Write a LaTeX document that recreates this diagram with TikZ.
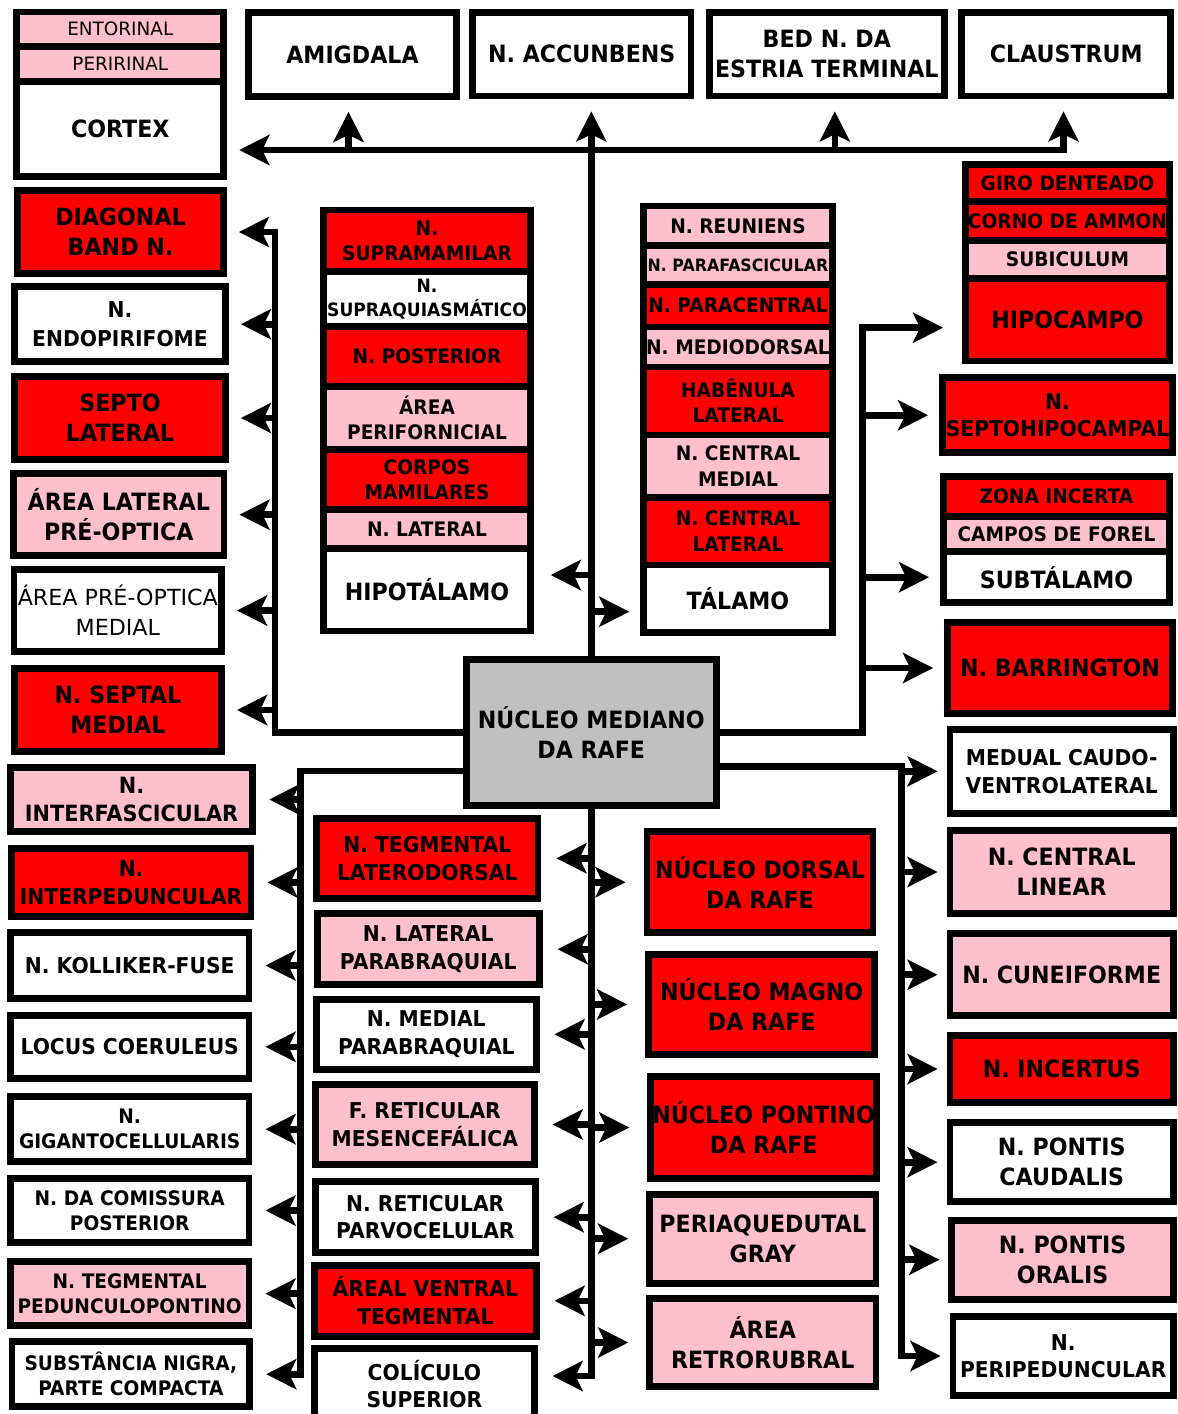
\documentclass[tikz,border=0pt]{standalone}
\usepackage{fontspec}
\setmainfont{DejaVu Sans}[FakeStretch=0.93]
\newfontfamily\plainface{DejaVu Sans}
\usetikzlibrary{arrows.meta}

\definecolor{nred}{RGB}{255,0,0}
\definecolor{npink}{RGB}{255,192,203}
\definecolor{ngray}{RGB}{192,192,192}

\newcommand{\szA}{\fontsize{11.9}{15.1}\selectfont}
\newcommand{\szB}{\fontsize{10.9}{13.8}\selectfont}
\newcommand{\szC}{\fontsize{10}{12.6}\selectfont}
\newcommand{\szD}{\fontsize{9.2}{12}\selectfont}
\newcommand{\szE}{\fontsize{8.5}{10.5}\selectfont}

\begin{document}
\begin{tikzpicture}[x=0.5pt, y=-0.5pt,
  cell/.style={draw, line width=3.4pt, inner sep=0pt, align=center, font=\bfseries\szB},
  redcell/.style={cell, fill=nred},
  pinkcell/.style={cell, fill=npink},
  whitecell/.style={cell, fill=white},
  graycell/.style={cell, fill=ngray},
  wh/.style 2 args={minimum width=#1*0.5pt, minimum height=#2*0.5pt},
  fA/.style={font=\bfseries\szA},
  fC/.style={font=\bfseries\szC},
  fD/.style={font=\bfseries\szD},
  fE/.style={font=\bfseries\szE},
  bus/.style={line width=3.3pt},
  link/.style={bus, -{Stealth[length=15pt, width=15pt, inset=3.5pt]}, shorten >=6pt}]

  \useasboundingbox (0,0) rectangle (1178,1414);
  \clip (0,0) rectangle (1178,1414);

  % top row
  \node[pinkcell, wh={207}{34.3}, font=\plainface\fontsize{9.2}{11}\selectfont] (Entorinal) at (120.3,29.2) {ENTORINAL};
  \node[pinkcell, wh={207}{35.4}, font=\plainface\fontsize{9.2}{11}\selectfont] (Peririnal) at (120.3,64) {PERIRINAL};
  \node[whitecell, wh={207}{94.8}, fA] (Cortex) at (120.3,129.1) {CORTEX};

  \node[whitecell, wh={208}{84}, fA] (Amigdala) at (352.5,54.5) {AMIGDALA};
  \node[whitecell, wh={218.2}{83.5}, fA] (Accunbens) at (581.8,54.2) {N. ACCUNBENS};
  \node[whitecell, wh={234.7}{83.5}, fA] (Estria) at (826.8,54.2) {BED N. DA\\ESTRIA TERMINAL};
  \node[whitecell, wh={209.1}{83.5}, fA] (Claustrum) at (1066.3,54.2) {CLAUSTRUM};

  % left, upper
  \node[redcell, wh={206}{82.4}, fA] (Diagonal) at (120.5,232) {DIAGONAL\\BAND N.};
  \node[whitecell, wh={211}{74.7}, font=\bfseries\fontsize{10.9}{14.3}\selectfont] (Endopirifome) at (120,324.2) {N.\\ENDOPIRIFOME};
  \node[redcell, wh={211}{82.4}, fA] (SeptoLateral) at (120,418) {SEPTO\\LATERAL};
  \node[pinkcell, wh={210.5}{82.3}, fA] (AreaLateral) at (118.8,514.7) {ÁREA LATERAL\\PRÉ-OPTICA};
  \node[whitecell, wh={207.5}{82}, font=\plainface\fontsize{11.1}{15}\selectfont] (AreaMedial) at (117.8,610.5) {ÁREA PRÉ-OPTICA\\MEDIAL};
  \node[redcell, wh={207.3}{83}, fA] (SeptalMedial) at (117.9,710) {N. SEPTAL\\MEDIAL};

  % hipotalamo
  \node[redcell, wh={207}{61.3}, fC] (Supramamilar) at (427,240.6) {N.\\SUPRAMAMILAR};
  \node[whitecell, wh={207}{55.4}, fD] (Supraquiasmatico) at (427,299) {N.\\SUPRAQUIASMÁTICO};
  \node[redcell, wh={207}{59.6}, fC] (Posterior) at (427,356.5) {N. POSTERIOR};
  \node[pinkcell, wh={207}{63.4}, fC] (Perifornicial) at (427,418) {ÁREA\\PERIFORNICIAL};
  \node[redcell, wh={207}{59.6}, fC] (Mamilares) at (427,479.5) {CORPOS\\MAMILARES};
  \node[pinkcell, wh={207}{39}, fC] (LateralHip) at (427,528.8) {N. LATERAL};
  \node[whitecell, wh={207}{82.7}, fA] (Hipotalamo) at (427,589.7) {HIPOTÁLAMO};

  % talamo
  \node[pinkcell, wh={189}{39.5}, fC] (Reuniens) at (738,225.75) {N. REUNIENS};
  \node[pinkcell, wh={189}{38.7}, fE] (Parafascicular) at (738,264.85) {N. PARAFASCICULAR};
  \node[redcell, wh={189}{42.8}, fC] (Paracentral) at (738,305.6) {N. PARACENTRAL};
  \node[pinkcell, wh={189}{40}, fC] (Mediodorsal) at (738,347) {N. MEDIODORSAL};
  \node[redcell, wh={189}{68}, fC] (Habenula) at (738,401) {HABÊNULA\\LATERAL};
  \node[pinkcell, wh={189}{62.3}, fC] (CentralMedial) at (738,466.15) {N. CENTRAL\\MEDIAL};
  \node[redcell, wh={189}{67.7}, fC] (CentralLateral) at (738,531.15) {N. CENTRAL\\LATERAL};
  \node[whitecell, wh={189}{67.7}, fA] (Talamo) at (738,598.85) {TÁLAMO};

  % right, upper
  \node[redcell, wh={204}{36.9}, fC] (Giro) at (1067.5,183) {GIRO DENTEADO};
  \node[redcell, wh={204}{39.1}, fC] (Ammon) at (1067.5,221) {CORNO DE AMMON};
  \node[pinkcell, wh={204}{37.9}, fC] (Subiculum) at (1067.5,259.5) {SUBICULUM};
  \node[redcell, wh={204}{82.6}, fA] (Hipocampo) at (1067.5,319.7) {HIPOCAMPO};
  \node[redcell, wh={230}{74.7}] (Septohipocampal) at (1057.5,415.2) {N.\\SEPTOHIPOCAMPAL};
  \node[redcell, wh={226}{39.6}, fC] (ZonaIncerta) at (1056.5,496.5) {ZONA INCERTA};
  \node[pinkcell, wh={226}{35.4}, fC] (Forel) at (1056.5,534) {CAMPOS DE FOREL};
  \node[whitecell, wh={226}{51}, fA] (Subtalamo) at (1056.5,577.2) {SUBTÁLAMO};
  \node[redcell, wh={225}{91}, fA] (Barrington) at (1060,668) {N. BARRINGTON};

  \node[graycell, wh={250.3}{146.3}, fA] (Nucleo) at (591.3,732.6) {NÚCLEO MEDIANO\\DA RAFE};

  % left, lower
  \node[pinkcell, wh={242.5}{64}, font=\bfseries\fontsize{11.2}{13.8}\selectfont] (Interfascicular) at (131.6,799.5) {N.\\INTERFASCICULAR};
  \node[redcell, wh={239.8}{68}] (Interpeduncular) at (131.1,882.5) {N.\\INTERPEDUNCULAR};
  \node[whitecell, wh={238.7}{65.4}] (Kolliker) at (129.7,965.5) {N. KOLLIKER-FUSE};
  \node[whitecell, wh={238.7}{62.7}] (Locus) at (129.7,1046.8) {LOCUS COERULEUS};
  \node[whitecell, wh={238.7}{64.7}, fC] (Giganto) at (129.7,1129.2) {N.\\GIGANTOCELLULARIS};
  \node[whitecell, wh={238.7}{64}, fC] (Comissura) at (129.7,1210.5) {N. DA COMISSURA\\POSTERIOR};
  \node[pinkcell, wh={238.7}{63.7}, fC] (Pedunculopontino) at (129.7,1293.7) {N. TEGMENTAL\\PEDUNCULOPONTINO};
  \node[whitecell, wh={237.9}{64.7}, fC] (Substancia) at (130.9,1374.2) {SUBSTÂNCIA NIGRA,\\PARTE COMPACTA};

  % middle, lower
  \node[redcell, wh={221.5}{79.7}] (Laterodorsal) at (427.3,858.3) {N. TEGMENTAL\\LATERODORSAL};
  \node[pinkcell, wh={221.9}{71.3}] (LateralParab) at (428.2,949.2) {N. LATERAL\\PARABRAQUIAL};
  \node[whitecell, wh={219.6}{69.7}] (MedialParab) at (426.3,1034.3) {N. MEDIAL\\PARABRAQUIAL};
  \node[pinkcell, wh={218.8}{80.6}] (Mesencefalica) at (424.8,1124.5) {F. RETICULAR\\MESENCEFÁLICA};
  \node[whitecell, wh={219.9}{70.7}] (Parvocelular) at (425.3,1217.2) {N. RETICULAR\\PARVOCELULAR};
  \node[redcell, wh={221.5}{71.3}] (Tegmental) at (425.4,1300.8) {ÁREAL VENTRAL\\TEGMENTAL};
  \node[whitecell, wh={219.6}{71}] (Coliculo) at (424.4,1384) {COLÍCULO\\SUPERIOR};

  \node[redcell, wh={225.9}{100.7}, fA] (Dorsal) at (760,882.2) {NÚCLEO DORSAL\\DA RAFE};
  \node[redcell, wh={226.3}{100.3}, fA] (Magno) at (761.7,1004.4) {NÚCLEO MAGNO\\DA RAFE};
  \node[redcell, wh={225.9}{101.4}, fA] (Pontino) at (763.7,1127.5) {NÚCLEO PONTINO\\DA RAFE};
  \node[pinkcell, wh={226.3}{89}, fA] (Periaquedutal) at (762.8,1238.7) {PERIAQUEDUTAL\\GRAY};
  \node[pinkcell, wh={226.3}{88}, fA] (Retrorubral) at (762.8,1342.5) {ÁREA\\RETRORUBRAL};

  % right, lower
  \node[whitecell, wh={223.4}{83.7}] (Caudoventrolateral) at (1061.7,771.3) {MEDUAL CAUDO-\\VENTROLATERAL};
  \node[pinkcell, wh={223.4}{82.4}, fA] (CentralLinear) at (1061.7,872) {N. CENTRAL\\LINEAR};
  \node[pinkcell, wh={223.4}{82.3}, fA] (Cuneiforme) at (1061.7,974.7) {N. CUNEIFORME};
  \node[redcell, wh={223.4}{67}, fA] (Incertus) at (1061.7,1069) {N. INCERTUS};
  \node[whitecell, wh={223.4}{78.7}, fA] (PontisCaudalis) at (1061.7,1162.2) {N. PONTIS\\CAUDALIS};
  \node[pinkcell, wh={221.6}{79}, fA] (PontisOralis) at (1062.6,1259.7) {N. PONTIS\\ORALIS};
  \node[whitecell, wh={220.5}{79.6}] (Peripeduncular) at (1063.2,1356) {N.\\PERIPEDUNCULAR};

  \coordinate (TopJoin) at (591.3,150);
  \coordinate (HipRow) at (591.3,575);
  \coordinate (TalRow) at (591.3,611.7);
  \coordinate (UpLeft) at (274.8,732.6);
  \coordinate (UpRight) at (862.4,732.6);
  \coordinate (LowLeft) at (300.4,771);
  \coordinate (LowRight) at (901.5,766.7);
  \coordinate (SpineEnd) at (591.3,1376);

  % up
  \draw[link] (Nucleo.north) -- (Nucleo.north |- Accunbens.south);
  \draw[link] (TopJoin) -- (TopJoin -| Cortex.east);
  \draw[link] (TopJoin) -| ([xshift=-1.4pt]Claustrum.south);
  \draw[link] ([xshift=-2pt]Amigdala.south |- TopJoin) -- ([xshift=-2pt]Amigdala.south);
  \draw[link] ([xshift=4pt]Estria.south |- TopJoin) -- ([xshift=4pt]Estria.south);
  \draw[link, shorten >=8.4pt] (HipRow) -- (HipRow -| Hipotalamo.east);
  \draw[link, shorten >=5.4pt] (TalRow) -- (TalRow -| Talamo.west);

  \draw[link] (Nucleo.west) -- (UpLeft) |- (Diagonal.east);
  \foreach \n in {Endopirifome, SeptoLateral, AreaLateral, AreaMedial, SeptalMedial}
    \draw[link] (UpLeft |- \n.east) -- (\n.east);

  \draw[link, shorten >=9.5pt] (Nucleo.east) -- (UpRight) |- ([yshift=-4pt]Hipocampo.west);
  \foreach \n in {Septohipocampal, Subtalamo, Barrington}
    \draw[link, shorten >=5.5pt] (UpRight |- \n.west) -- (\n.west);

  % down
  \draw[link, shorten >=7.5pt] (Nucleo.south) -- (SpineEnd) -- (SpineEnd -| Coliculo.east);
  \foreach \n in {Laterodorsal, LateralParab, MedialParab, Mesencefalica, Parvocelular, Tegmental}
    \draw[link, shorten >=7.5pt] (SpineEnd |- \n.east) -- (\n.east);
  \foreach \n in {Dorsal, Magno, Pontino, Periaquedutal, Retrorubral}
    \draw[link, shorten >=9pt] (SpineEnd |- \n.west) -- (\n.west);

  \draw[link, shorten >=6.5pt] (Nucleo.west |- LowLeft) -- (LowLeft) |- (Substancia.east);
  \foreach \n in {Interfascicular, Interpeduncular, Kolliker, Locus, Giganto, Comissura, Pedunculopontino}
    \draw[link, shorten >=6.5pt] (LowLeft |- \n.east) -- (\n.east);

  \draw[link, shorten >=4.5pt] (Nucleo.east |- LowRight) -- (LowRight) |- (Peripeduncular.west);
  \foreach \n in {Caudoventrolateral, CentralLinear, Cuneiforme, Incertus, PontisCaudalis, PontisOralis}
    \draw[link, shorten >=4.5pt] (LowRight |- \n.west) -- (\n.west);

\end{tikzpicture}
\end{document}
